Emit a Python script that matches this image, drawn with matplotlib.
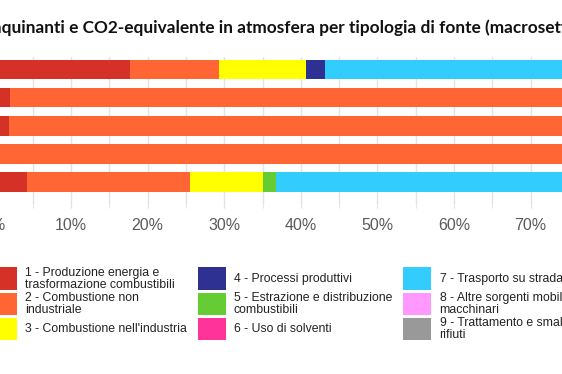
import matplotlib
matplotlib.use("Agg")
import matplotlib.pyplot as plt
from matplotlib.patches import Rectangle

# --- DATA ---
pollutants = ["NOx", "PM10", "PM2.5", "Benzo(a)pirene", "CO2 eq"]
sources = [
    "1 - Produzione energia e\ntrasformazione combustibili",
    "2 - Combustione non\nindustriale",
    "3 - Combustione nell'industria",
    "4 - Processi produttivi",
    "5 - Estrazione e distribuzione\ncombustibili",
    "6 - Uso di solventi",
    "7 - Trasporto su strada",
    "8 - Altre sorgenti mobili e\nmacchinari",
    "9 - Trattamento e smaltimento\nrifiuti",
]
colors = ["#d63127", "#ff6633", "#ffff00", "#2e3192", "#66cc33",
          "#ff3399", "#33ccff", "#ff99ff", "#999999"]

# share (%) of each source, one list per source, in pollutant order
s1 = [17.7, 2.0, 1.9, 0.0, 4.2]
s2 = [11.6, 80.0, 82.0, 95.0, 21.4]
s3 = [11.4, 2.0, 2.0, 1.0, 9.5]
s4 = [2.5, 1.0, 1.0, 0.0, 0.0]
s5 = [0.0, 0.0, 0.0, 0.0, 1.7]
s6 = [0.0, 0.0, 0.0, 0.0, 0.0]
s7 = [40.0, 8.0, 7.0, 0.0, 45.0]
s8 = [14.0, 4.0, 3.5, 0.0, 12.0]
s9 = [2.8, 3.0, 2.6, 4.0, 6.2]
shares = [s1, s2, s3, s4, s5, s6, s7, s8, s9]

xticks = list(range(0, 101, 10))
xtick_labels = [f"{t}%" for t in xticks]

title = "Emissioni di inquinanti e CO2-equivalente in atmosfera per tipologia di fonte (macrosettore)"

# --- FIGURE ---
W, H = 562, 374
fig = plt.figure(figsize=(W / 100, H / 100), dpi=100)

# the screenshot only shows a slice of the plot, the axes run past the right edge
ax = fig.add_axes([-5.6 / W, 1 - 205 / H, 766 / W, 148 / H])

ypos = list(range(len(pollutants)))
left = [0.0] * len(pollutants)
for vals, col in zip(shares, colors):
    ax.barh(ypos, vals, left=left, height=0.69, color=col, linewidth=0, zorder=3)
    left = [a + b for a, b in zip(left, vals)]

ax.set_xlim(0, 100)
ax.set_ylim(4.815, -0.452)
ax.set_yticks(ypos)
ax.set_yticklabels(pollutants)
ax.set_xticks(xticks)
ax.set_xticklabels(xtick_labels, family=["Liberation Sans", "DejaVu Sans"],
                   fontsize=11.5, color="#5a5a5a")
ax.set_xticks(range(5, 100, 10), minor=True)
ax.tick_params(axis="x", which="both", length=2, color="#dddddd", pad=7.5)
ax.tick_params(axis="y", length=0)
ax.grid(axis="x", which="both", color="#e3e3e3", linewidth=1, zorder=0)
for sp in ax.spines.values():
    sp.set_visible(False)

# --- TITLE (cut on both sides like the screenshot) ---
tfont = dict(family=["Lato", "DejaVu Sans"], weight="bold")
visible = "quinanti e CO2-equivalente in atmosfera per tipologia di fonte (macrosett"
prefix = "Emissioni di in"
r = fig.canvas.get_renderer()
tmp = fig.text(0, 0, visible, fontsize=10, **tfont)
w_vis = tmp.get_window_extent(r).width
tmp.remove()
tsize = 10 * 566 / w_vis
tmp = fig.text(0, 0, prefix, fontsize=tsize, **tfont)
w_pre = tmp.get_window_extent(r).width
tmp.remove()
fig.text((1.5 - w_pre) / W, 1 - 28 / H, title, fontsize=tsize, va="center",
         ha="left", color="#111111", **tfont)

# --- LEGEND (drawn by hand, 3 columns) ---
col_left = [-11.3, 197.7, 403.3]
row_mid = [278.7, 303.9, 328.9]
sw_w, sw_h = 28, 22.7
for i, (lab, col) in enumerate(zip(sources, colors)):
    c, rr = divmod(i, 3)
    x0 = col_left[c]
    yc = row_mid[rr]
    fig.patches.append(Rectangle((x0 / W, 1 - (yc + sw_h / 2) / H), sw_w / W, sw_h / H,
                                 transform=fig.transFigure, facecolor=col,
                                 edgecolor="none"))
    fig.text((x0 + 36.3) / W, 1 - yc / H, lab, fontsize=8.8, va="center", ha="left",
             family=["Liberation Sans", "DejaVu Sans"], color="#222222",
             linespacing=1.0)

fig.savefig("out.png", dpi=100)
